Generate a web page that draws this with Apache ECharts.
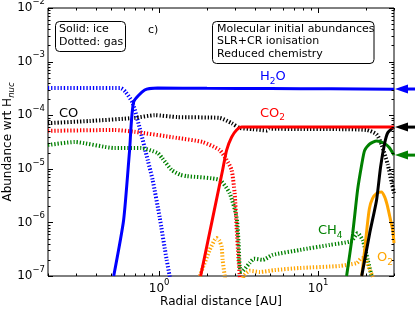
<!DOCTYPE html>
<html><head><meta charset="utf-8">
<script src="https://cdn.jsdelivr.net/npm/echarts@6/dist/echarts.min.js"></script>
<style>html,body{margin:0;padding:0;background:#fff}#c{width:415px;height:310px}</style>
</head><body><div id="c"></div>
<script>
// ---------- data (radial distance [AU], abundance wrt H_nuc) ----------
const h2oIceR = [0.518, 0.598, 0.652, 0.691, 0.811, 0.978, 2, 5, 12, 30];
const h2oIce  = [1e-7, 1.11e-6, 2.24e-5, 1.76e-4, 2.95e-4, 3.21e-4, 3.18e-4, 3.15e-4, 3.1e-4, 3.05e-4];
const h2oGasR = [0.2, 0.573, 0.616, 0.681, 0.754, 0.847, 0.910, 1.007, 1.115, 1.164, 1.19];
const h2oGas  = [3.2e-4, 3.2e-4, 2.7e-4, 1.7e-4, 5.8e-5, 1.47e-5, 6.2e-6, 1.26e-6, 2.0e-7, 1.0e-7, 7e-8];

const coGasR = [0.2, 0.366, 0.701, 0.937, 1.307, 2.40, 2.857, 3.21, 3.88, 4.75, 4.96, 7.65, 13, 20.2, 23.3, 25.1, 27.4, 29.0, 30];
const coGas  = [7.1e-5, 7.8e-5, 8.9e-5, 1.0e-4, 9.2e-5, 8.9e-5, 7.1e-5, 5.8e-5, 5.5e-5, 5.2e-5, 5.6e-5, 5.5e-5, 5.5e-5, 5.3e-5, 4.4e-5, 2.8e-5, 1.2e-5, 5.5e-6, 3.5e-6];
const coIceR = [18.8, 21.1, 23.3, 24.7, 26.2, 27.4, 29.4, 30];
const coIce  = [1e-7, 6.3e-7, 2.6e-6, 1.08e-5, 3.0e-5, 4.7e-5, 5.8e-5, 6.0e-5];

const co2GasR = [0.2, 0.525, 0.701, 1.307, 1.878, 2.40, 2.658, 2.857, 2.984, 3.07, 3.16, 3.21, 3.25];
const co2Gas  = [5.1e-5, 5.3e-5, 4.9e-5, 3.76e-5, 3.16e-5, 2.24e-5, 1.46e-5, 9.5e-6, 3.5e-6, 8.2e-7, 2.0e-7, 1.04e-7, 7e-8];
const co2IceR = [1.824, 2.508, 2.658, 2.857, 3.07, 3.30, 5, 10, 30];
const co2Ice  = [1e-7, 9.5e-6, 2.24e-5, 3.9e-5, 5.3e-5, 6.0e-5, 6.0e-5, 6.0e-5, 6.0e-5];

const ch4GasR = [0.2, 0.294, 0.525, 0.765, 0.978, 1.05, 1.2, 1.35, 1.49, 2.40, 2.775, 3.07, 3.16, 3.21, 3.30, 3.71, 3.95, 4.48, 5.17, 7.65, 11.8, 16.2, 17.7, 19.1, 20.5, 21.7];
const ch4Gas  = [2.78e-5, 3.16e-5, 2.44e-5, 2.44e-5, 1.97e-5, 1.55e-5, 9.5e-6, 7.8e-6, 7.3e-6, 6.2e-6, 3.5e-6, 1.26e-6, 4.1e-7, 1.5e-7, 1.2e-7, 1.75e-7, 2.1e-7, 2.0e-7, 2.47e-7, 3.06e-7, 3.8e-7, 4.5e-7, 6.3e-7, 4.6e-7, 2.0e-7, 1.0e-7];
const ch4IceR = [15.1, 16.5, 17.7, 18.8, 19.6, 21.1, 23.3, 26.0, 28.0, 30];
const ch4Ice  = [1e-7, 6.3e-7, 4e-6, 1.2e-5, 2.2e-5, 2.9e-5, 3.3e-5, 3.0e-5, 2.5e-5, 1.8e-5];

const o2GasR = [1.80, 2.078, 2.234, 2.300, 2.40, 2.472, 2.508, 2.581, 2.65, 3.3, 3.4, 3.71, 4.29, 5.33, 7.65, 13.6, 17.5, 18.8, 19.9, 21.1, 22.0, 22.5];
const o2Gas  = [1.0e-7, 3.06e-7, 4.7e-7, 5.1e-7, 4.5e-7, 3.5e-7, 2.0e-7, 1.04e-7, 7e-8, 7e-8, 1e-7, 1.25e-7, 1.19e-7, 1.29e-7, 1.41e-7, 1.54e-7, 1.75e-7, 2.17e-7, 2.08e-7, 1.29e-7, 1.0e-7, 8e-8];
const o2IceR = [18.8, 19.6, 20.3, 21.0, 22.0, 23.4, 25.0, 26.2, 27.2, 28.2, 29.5, 30];
const o2Ice  = [1e-7, 3e-7, 8e-7, 1.8e-6, 2.8e-6, 3.5e-6, 3.7e-6, 3.0e-6, 2.1e-6, 1.3e-6, 7e-7, 4.1e-7];

// initial abundances marked with arrows on the right (H2O, CO, CH4)
const initialAbund = [3.08e-4, 6.0e-5, 1.8e-5];

// axis extents and ticks
const xMin = 0.2, xMax = 30, yMin = 1e-7, yMax = 1e-2;
const xMajorTicks = [1, 10];
const xMinorTicks = [0.2, 0.3, 0.4, 0.5, 0.6, 0.7, 0.8, 0.9, 2, 3, 4, 5, 6, 7, 8, 9, 20, 30];
const yMajorTicks = [1e-7, 1e-6, 1e-5, 1e-4, 1e-3, 1e-2];
const yMinorMantissa = [2, 3, 4, 5, 6, 7, 8, 9];
const yMinorDecades = [1e-7, 1e-6, 1e-5, 1e-4, 1e-3];

// ---------- chart ----------
const FONT = 'DejaVu Sans';
const C = { blue: '#0000ff', black: '#000000', red: '#ff0000', green: '#008000', orange: '#ffa500' };
const arrowColors = [C.blue, C.black, C.green];
const pairs = (r, v) => r.map((x, i) => [x, v[i]]);

function lineSeries(name, r, v, color, solid, z) {
  return {
    name, type: 'line', data: pairs(r, v), symbol: 'none', showSymbol: false,
    smooth: 0.2, clip: true, animation: false, silent: true, z: z,
    lineStyle: { color, width: solid ? 3 : 4, type: solid ? 'solid' : [1.3, 1.9], cap: 'butt' }
  };
}

const yMinorTicks = [];
yMinorDecades.forEach(d => yMinorMantissa.forEach(m => yMinorTicks.push(m * d)));
const tickData = [];
xMajorTicks.forEach(v => tickData.push([v, yMin, 0, 5]));
xMinorTicks.forEach(v => tickData.push([v, yMin, 0, 2.5]));
yMajorTicks.forEach(v => tickData.push([xMin, v, 1, 5]));
yMinorTicks.forEach(v => tickData.push([xMin, v, 1, 2.5]));

const powLabel = v => {
  const e = Math.log10(v), n = Math.round(e);
  if (Math.abs(e - n) > 1e-6) return '';
  return '{b|10}{s|' + (n < 0 ? '\u2212' : '') + Math.abs(n) + '}';
};
const powRich = {
  b: { fontSize: 12, fontFamily: FONT, color: '#000', lineHeight: 22 },
  s: { fontSize: 8.5, fontFamily: FONT, color: '#000', lineHeight: 10, verticalAlign: 'top' }
};

const chart = echarts.init(document.getElementById('c'), null, { renderer: 'canvas' });
chart.setOption({
  animation: false,
  backgroundColor: '#ffffff',
  grid: { left: 48, right: 21, top: 8, bottom: 34, show: true, borderColor: '#000', borderWidth: 1,
          backgroundColor: 'transparent', containLabel: false, outerBoundsMode: 'none' },
  xAxis: {
    type: 'log', logBase: 10, min: xMin, max: xMax,
    axisLine: { show: false }, axisTick: { show: false }, splitLine: { show: false },
    minorTick: { show: false }, minorSplitLine: { show: false },
    axisLabel: { formatter: powLabel, rich: powRich, margin: 2, showMinLabel: false, showMaxLabel: false },
    name: 'Radial distance [AU]', nameLocation: 'middle', nameGap: 20, nameMoveOverlap: false,
    nameTextStyle: { fontFamily: FONT, fontSize: 12, color: '#000' }
  },
  yAxis: {
    type: 'log', logBase: 10, min: yMin, max: yMax,
    axisLine: { show: false }, axisTick: { show: false }, splitLine: { show: false },
    minorTick: { show: false }, minorSplitLine: { show: false },
    axisLabel: { formatter: powLabel, rich: powRich, margin: 3 },
    name: '{a|Abundance wrt H}{n|nuc}', nameLocation: 'middle', nameGap: 32, nameRotate: 90, nameMoveOverlap: false,
    nameTextStyle: { fontFamily: FONT, fontSize: 12, color: '#000',
      rich: { a: { fontFamily: FONT, fontSize: 12, color: '#000', lineHeight: 16 },
              n: { fontFamily: FONT, fontSize: 8.5, fontStyle: 'italic', color: '#000', lineHeight: 10, verticalAlign: 'bottom' } } }
  },
  series: [
    lineSeries('H2O gas', h2oGasR, h2oGas, C.blue, false, 2),
    lineSeries('CO gas', coGasR, coGas, C.black, false, 2),
    lineSeries('CO2 gas', co2GasR, co2Gas, C.red, false, 2),
    lineSeries('CH4 gas', ch4GasR, ch4Gas, C.green, false, 2),
    lineSeries('O2 gas', o2GasR, o2Gas, C.orange, false, 2),
    lineSeries('O2 ice', o2IceR, o2Ice, C.orange, true, 3),
    lineSeries('CH4 ice', ch4IceR, ch4Ice, C.green, true, 3),
    lineSeries('CO ice', coIceR, coIce, C.black, true, 3),
    lineSeries('CO2 ice', co2IceR, co2Ice, C.red, true, 3),
    lineSeries('H2O ice', h2oIceR, h2oIce, C.blue, true, 4),
    {
      type: 'custom', name: 'ticks', data: tickData, silent: true, z: 10, clip: false,
      encode: { x: 0, y: 1 },
      renderItem: (params, api) => {
        const kind = api.value(2), len = api.value(3);
        const st = { stroke: '#000', lineWidth: 1 };
        if (kind === 0) {
          const pb = api.coord([api.value(0), yMin]), pt = api.coord([api.value(0), yMax]);
          const x = Math.round(pb[0]) + 0.5;
          return { type: 'group', children: [
            { type: 'line', shape: { x1: x, y1: pb[1], x2: x, y2: pb[1] - len }, style: st },
            { type: 'line', shape: { x1: x, y1: pt[1], x2: x, y2: pt[1] + len }, style: st } ] };
        }
        const pl = api.coord([xMin, api.value(1)]), pr = api.coord([xMax, api.value(1)]);
        const y = Math.round(pl[1]) + 0.5;
        return { type: 'group', children: [
          { type: 'line', shape: { x1: pl[0], y1: y, x2: pl[0] + len, y2: y }, style: st },
          { type: 'line', shape: { x1: pr[0], y1: y, x2: pr[0] - len, y2: y }, style: st } ] };
      }
    },
    {
      type: 'custom', name: 'arrows', data: initialAbund.map((v, i) => [xMax, v, i]), silent: true, z: 12, clip: false,
      encode: { x: 0, y: 1 },
      renderItem: (params, api) => {
        const p = api.coord([api.value(0), api.value(1)]);
        const col = arrowColors[api.value(2)];
        const tx = p[0] + 1, y = p[1];
        return { type: 'group', children: [
          { type: 'line', shape: { x1: tx + 8, y1: y, x2: api.getWidth(), y2: y }, style: { stroke: col, lineWidth: 3 } },
          { type: 'polygon', shape: { points: [[tx, y], [tx + 13, y - 4.5], [tx + 13, y + 4.5]] }, style: { fill: col } } ] };
      }
    }
  ],
  graphic: [
    { type: 'rect', shape: { x: 55.5, y: 21.5, width: 70, height: 30, r: 4 }, style: { fill: '#fff', stroke: '#000', lineWidth: 1 }, z: 100 },
    { type: 'text', x: 59, y: 29, z: 101, style: { text: 'Solid: ice', fontFamily: FONT, fontSize: 11, fill: '#000', verticalAlign: 'middle' } },
    { type: 'text', x: 59, y: 42, z: 101, style: { text: 'Dotted: gas', fontFamily: FONT, fontSize: 11, fill: '#000', verticalAlign: 'middle' } },
    { type: 'text', x: 148, y: 30, z: 101, style: { text: 'c)', fontFamily: FONT, fontSize: 11, fill: '#000', verticalAlign: 'middle' } },
    { type: 'rect', shape: { x: 212.5, y: 21.5, width: 161.5, height: 42, r: 4 }, style: { fill: '#fff', stroke: '#000', lineWidth: 1 }, z: 100 },
    { type: 'text', x: 217, y: 29, z: 101, style: { text: 'Molecular initial abundances', fontFamily: FONT, fontSize: 11, fill: '#000', verticalAlign: 'middle' } },
    { type: 'text', x: 217, y: 41.5, z: 101, style: { text: 'SLR+CR ionisation', fontFamily: FONT, fontSize: 11, fill: '#000', verticalAlign: 'middle' } },
    { type: 'text', x: 217, y: 54, z: 101, style: { text: 'Reduced chemistry', fontFamily: FONT, fontSize: 11, fill: '#000', verticalAlign: 'middle' } },
    { type: 'text', x: 260, y: 77, z: 101, style: { text: '{m|H}{s|2}{m|O}', fill: C.blue, verticalAlign: 'middle',
      rich: { m: { fontFamily: FONT, fontSize: 13, fill: C.blue, lineHeight: 18 }, s: { fontFamily: FONT, fontSize: 9, fill: C.blue, lineHeight: 10, verticalAlign: 'bottom' } } } },
    { type: 'text', x: 59, y: 113.5, z: 101, style: { text: 'CO', fontFamily: FONT, fontSize: 13, fill: C.black, verticalAlign: 'middle' } },
    { type: 'text', x: 260, y: 113.5, z: 101, style: { text: '{m|CO}{s|2}', fill: C.red, verticalAlign: 'middle',
      rich: { m: { fontFamily: FONT, fontSize: 13, fill: C.red, lineHeight: 18 }, s: { fontFamily: FONT, fontSize: 9, fill: C.red, lineHeight: 10, verticalAlign: 'bottom' } } } },
    { type: 'text', x: 318, y: 231, z: 101, style: { text: '{m|CH}{s|4}', fill: C.green, verticalAlign: 'middle',
      rich: { m: { fontFamily: FONT, fontSize: 13, fill: C.green, lineHeight: 18 }, s: { fontFamily: FONT, fontSize: 9, fill: C.green, lineHeight: 10, verticalAlign: 'bottom' } } } },
    { type: 'text', x: 377, y: 258, z: 101, style: { text: '{m|O}{s|2}', fill: C.orange, verticalAlign: 'middle',
      rich: { m: { fontFamily: FONT, fontSize: 13, fill: C.orange, lineHeight: 18 }, s: { fontFamily: FONT, fontSize: 9, fill: C.orange, lineHeight: 10, verticalAlign: 'bottom' } } } }
  ]
});
</script>
</body></html>
